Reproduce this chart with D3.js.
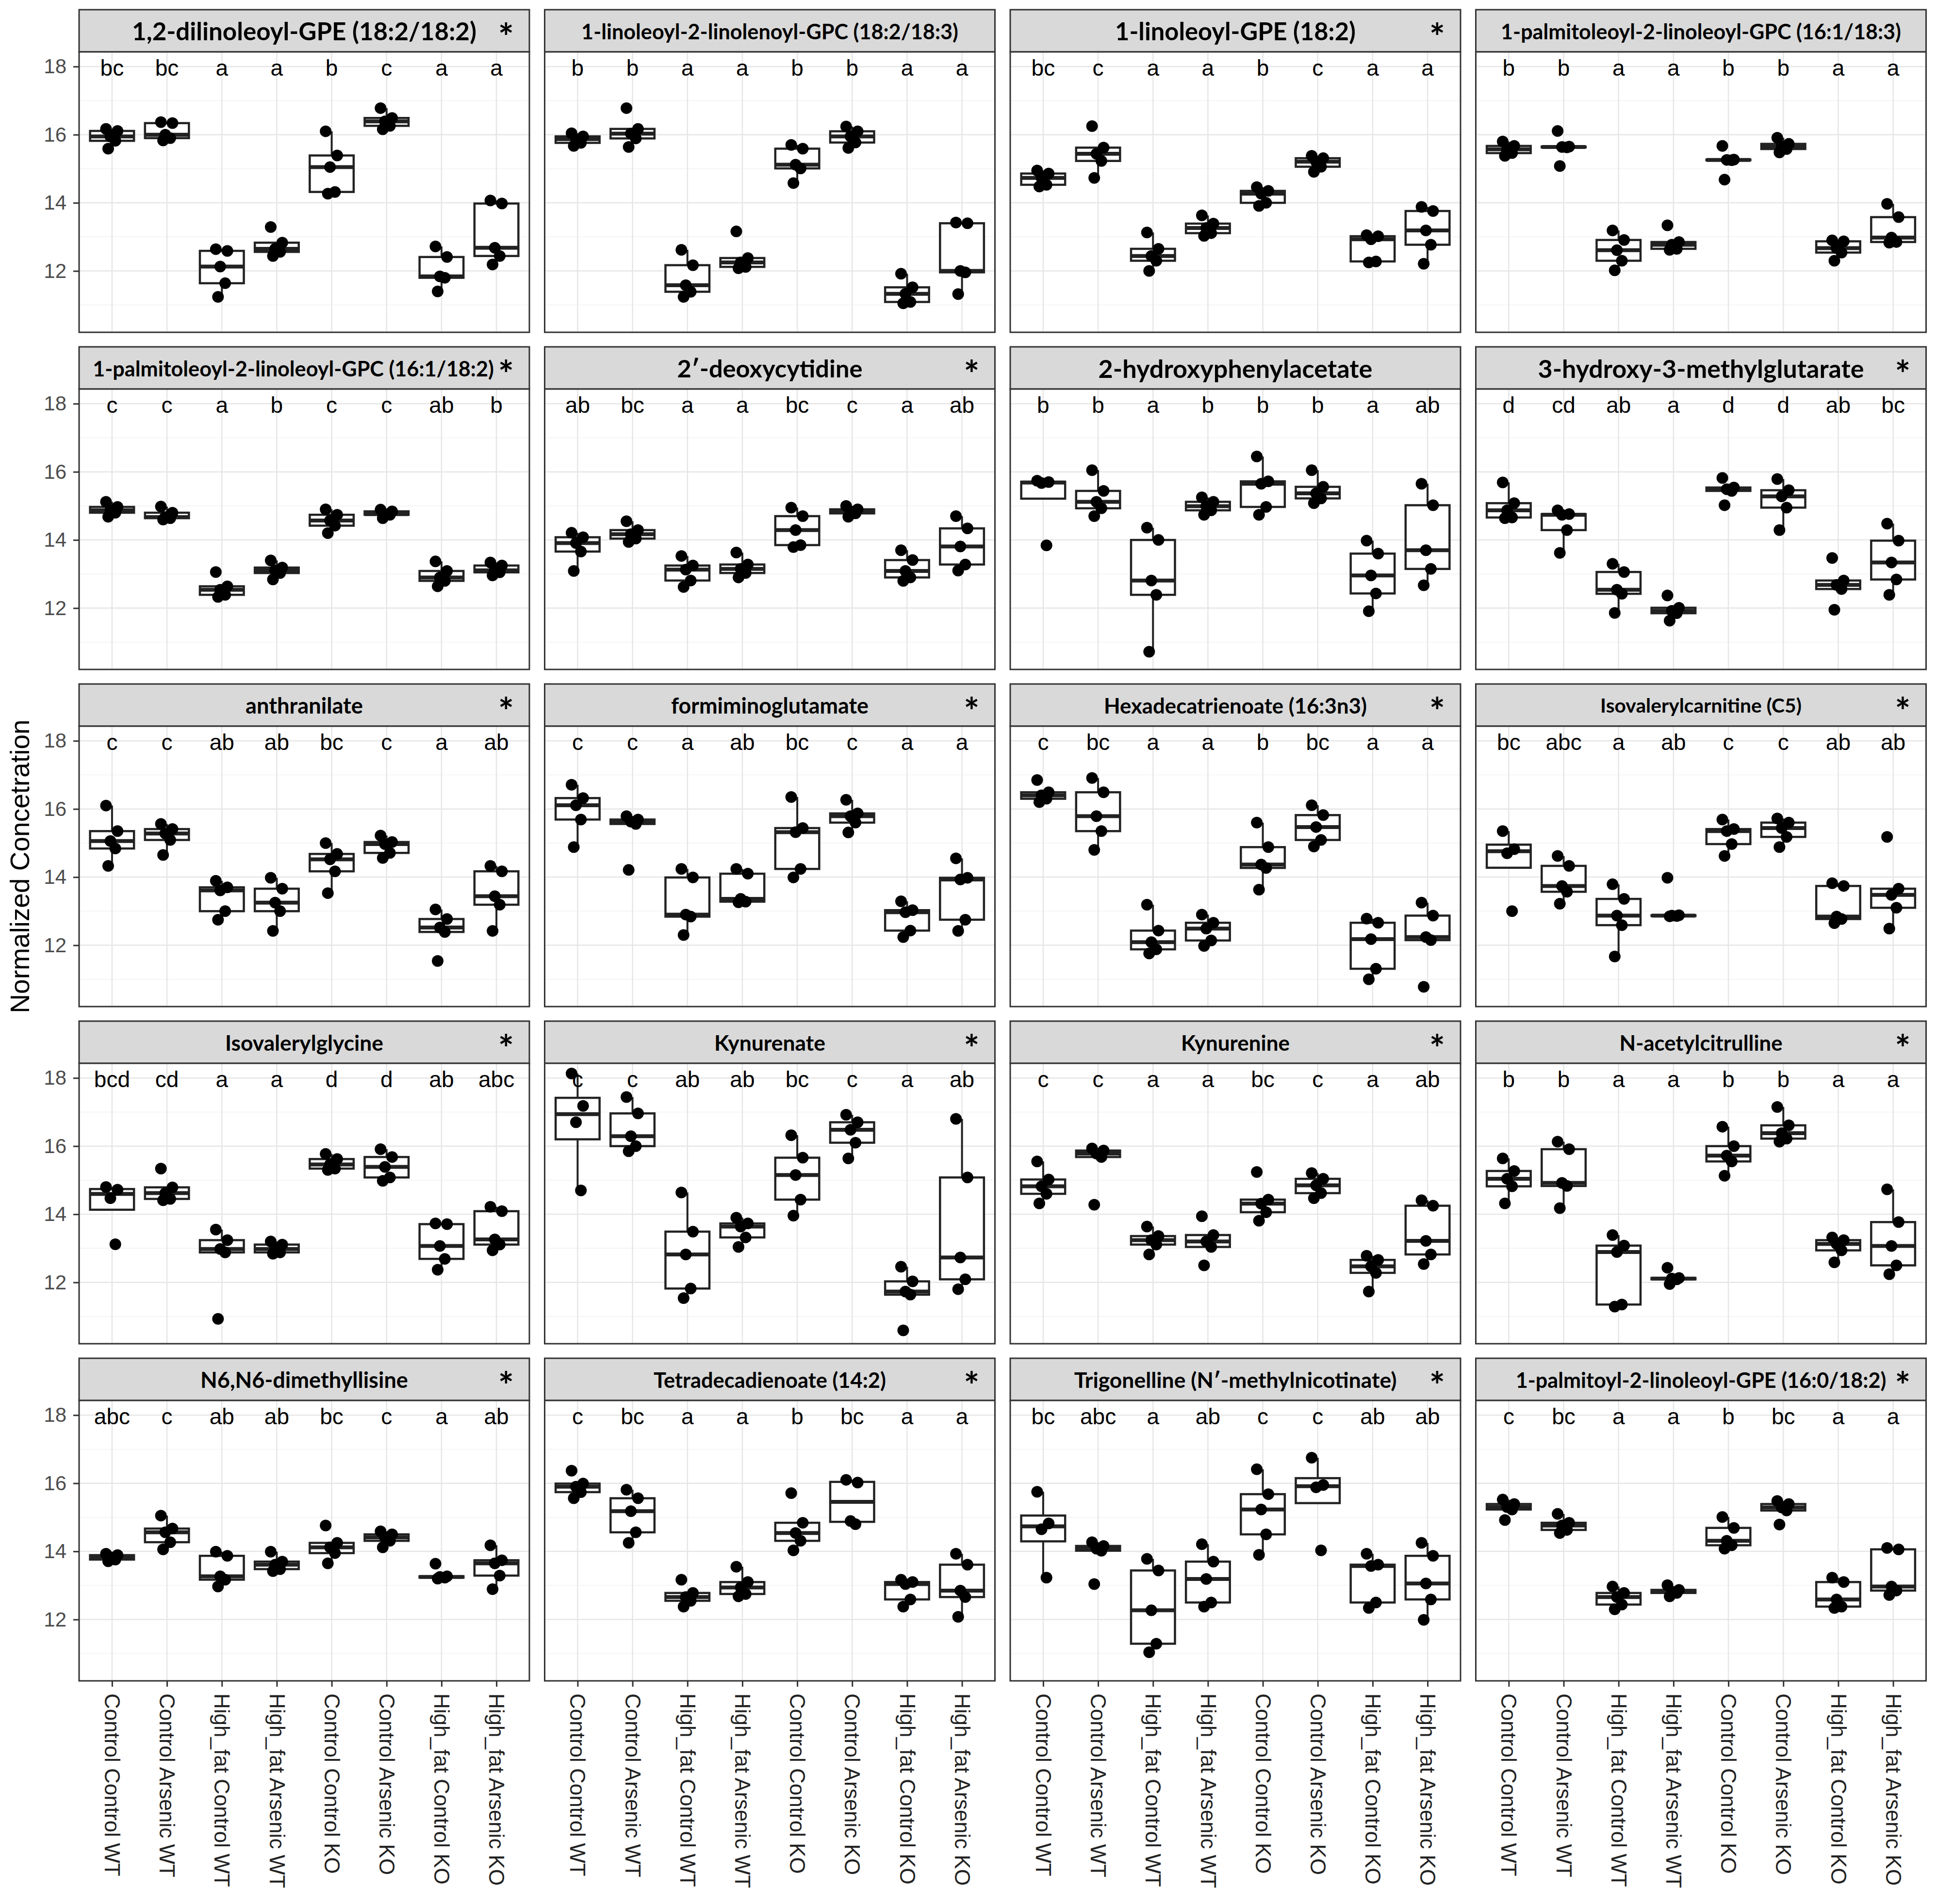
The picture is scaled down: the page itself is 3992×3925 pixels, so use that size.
<!DOCTYPE html>
<html>
<head>
<meta charset="utf-8">
<script src="https://cdn.jsdelivr.net/npm/d3@7"></script>
<style>
  body { margin: 0; background: #fff; }
</style>
</head>
<body>
<script>
// categories (x axis)
const groups = [
  "Control Control WT", "Control Arsenic WT", "High_fat Control WT", "High_fat Arsenic WT",
  "Control Control KO", "Control Arsenic KO", "High_fat Control KO", "High_fat Arsenic KO"
];

// facet titles, in reading order
const metabolites = [
  "1,2-dilinoleoyl-GPE (18:2/18:2)", "1-linoleoyl-2-linolenoyl-GPC (18:2/18:3)",
  "1-linoleoyl-GPE (18:2)", "1-palmitoleoyl-2-linoleoyl-GPC (16:1/18:3)",
  "1-palmitoleoyl-2-linoleoyl-GPC (16:1/18:2)", "2\u2032-deoxycytidine",
  "2-hydroxyphenylacetate", "3-hydroxy-3-methylglutarate",
  "anthranilate", "formiminoglutamate", "Hexadecatrienoate (16:3n3)", "Isovalerylcarnitine (C5)",
  "Isovalerylglycine", "Kynurenate", "Kynurenine", "N-acetylcitrulline",
  "N6,N6-dimethyllisine", "Tetradecadienoate (14:2)", "Trigonelline (N\u2032-methylnicotinate)",
  "1-palmitoyl-2-linoleoyl-GPE (16:0/18:2)"
];

const starred = [true, false, true, false, true, true, false, true,
  true, true, true, true, true, true, true, true, true, true, true, true];

// significance letters per group
const letters = [
  ["bc", "bc", "a", "a", "b", "c", "a", "a"],
  ["b", "b", "a", "a", "b", "b", "a", "a"],
  ["bc", "c", "a", "a", "b", "c", "a", "a"],
  ["b", "b", "a", "a", "b", "b", "a", "a"],
  ["c", "c", "a", "b", "c", "c", "ab", "b"],
  ["ab", "bc", "a", "a", "bc", "c", "a", "ab"],
  ["b", "b", "a", "b", "b", "b", "a", "ab"],
  ["d", "cd", "ab", "a", "d", "d", "ab", "bc"],
  ["c", "c", "ab", "ab", "bc", "c", "a", "ab"],
  ["c", "c", "a", "ab", "bc", "c", "a", "a"],
  ["c", "bc", "a", "a", "b", "bc", "a", "a"],
  ["bc", "abc", "a", "ab", "c", "c", "ab", "ab"],
  ["bcd", "cd", "a", "a", "d", "d", "ab", "abc"],
  ["c", "c", "ab", "ab", "bc", "c", "a", "ab"],
  ["c", "c", "a", "a", "bc", "c", "a", "ab"],
  ["b", "b", "a", "a", "b", "b", "a", "a"],
  ["abc", "c", "ab", "ab", "bc", "c", "a", "ab"],
  ["c", "bc", "a", "a", "b", "bc", "a", "a"],
  ["bc", "abc", "a", "ab", "c", "c", "ab", "ab"],
  ["c", "bc", "a", "a", "b", "bc", "a", "a"]
];

const yTicks = [12, 14, 16, 18];
const yMinorTicks = [11, 13, 15, 17];

// normalized concentrations, one list of samples per group
const dilinoleoylGPE = [
  [16.17, 16.11, 15.95, 15.82, 15.59], [16.37, 16.34, 16.00, 15.90, 15.83],
  [12.64, 12.59, 12.13, 11.64, 11.24], [13.29, 12.83, 12.65, 12.56, 12.44],
  [16.10, 15.39, 15.05, 14.32, 14.27], [16.78, 16.49, 16.39, 16.26, 16.16],
  [12.72, 12.41, 11.84, 11.80, 11.40], [14.07, 13.98, 12.68, 12.44, 12.19]
];
const linoleoylLinolenoylGPC = [
  [16.04, 15.95, 15.87, 15.76, 15.67], [16.78, 16.17, 16.03, 15.89, 15.64],
  [12.62, 12.17, 11.58, 11.39, 11.24], [13.16, 12.38, 12.25, 12.12, 12.08],
  [15.70, 15.59, 15.12, 15.01, 14.58], [16.24, 16.10, 15.95, 15.77, 15.61],
  [11.92, 11.52, 11.33, 11.09, 11.05], [13.42, 13.40, 12.00, 11.96, 11.32]
];
const linoleoylGPE = [
  [14.95, 14.86, 14.73, 14.53, 14.48], [16.25, 15.62, 15.44, 15.23, 14.73],
  [13.13, 12.65, 12.44, 12.30, 12.00], [13.63, 13.39, 13.26, 13.11, 13.03],
  [14.46, 14.35, 14.27, 14.00, 13.91], [15.38, 15.31, 15.21, 15.06, 14.91],
  [13.05, 13.02, 12.93, 12.28, 12.25], [13.88, 13.76, 13.19, 12.77, 12.21]
];
const palmitoleoylLinoleoylGPC183 = [
  [15.80, 15.67, 15.57, 15.46, 15.38], [16.11, 15.65, 15.64, 15.63, 15.08],
  [13.19, 12.91, 12.61, 12.30, 12.02], [13.34, 12.85, 12.77, 12.65, 12.62],
  [15.67, 15.27, 15.26, 15.25, 14.68], [15.91, 15.73, 15.65, 15.58, 15.48],
  [12.90, 12.87, 12.67, 12.54, 12.30], [13.97, 13.58, 12.98, 12.85, 12.83]
];
const palmitoleoylLinoleoylGPC182 = [
  [15.12, 14.97, 14.87, 14.80, 14.68], [14.98, 14.80, 14.67, 14.64, 14.60],
  [13.06, 12.64, 12.54, 12.39, 12.33], [13.40, 13.19, 13.11, 13.03, 12.84],
  [14.90, 14.74, 14.57, 14.42, 14.20], [14.89, 14.84, 14.76, 14.74, 14.64],
  [13.37, 13.09, 12.90, 12.80, 12.64], [13.34, 13.25, 13.11, 13.05, 12.96]
];
const deoxycytidine = [
  [14.21, 14.08, 13.91, 13.66, 13.09], [14.55, 14.29, 14.17, 14.04, 13.94],
  [13.53, 13.25, 13.13, 12.81, 12.62], [13.63, 13.28, 13.15, 13.03, 12.90],
  [14.95, 14.70, 14.29, 13.85, 13.79], [15.00, 14.90, 14.84, 14.78, 14.68],
  [13.70, 13.41, 13.09, 12.90, 12.80], [14.70, 14.34, 13.81, 13.28, 13.10]
];
const hydroxyphenylacetate = [
  [15.74, 15.70, 15.67, 13.84], [16.05, 15.44, 15.12, 14.93, 14.70],
  [14.36, 14.00, 12.81, 12.39, 10.72], [15.25, 15.12, 14.99, 14.87, 14.74],
  [16.45, 15.72, 15.65, 14.97, 14.74], [16.05, 15.56, 15.37, 15.22, 15.08],
  [13.98, 13.60, 12.96, 12.43, 11.91], [15.65, 15.02, 13.70, 13.15, 12.67]
];
const hydroxyMethylglutarate = [
  [15.69, 15.08, 14.87, 14.66, 14.64], [14.87, 14.76, 14.74, 14.29, 13.62],
  [13.30, 13.06, 12.54, 12.42, 11.86], [12.37, 12.01, 11.92, 11.85, 11.63],
  [15.82, 15.54, 15.49, 15.44, 15.02], [15.79, 15.46, 15.28, 14.95, 14.29],
  [13.47, 12.81, 12.68, 12.56, 11.95], [14.48, 13.98, 13.34, 12.84, 12.39]
];
const anthranilate = [
  [16.10, 15.35, 15.06, 14.84, 14.33], [15.56, 15.41, 15.28, 15.09, 14.65],
  [13.89, 13.70, 13.61, 13.00, 12.75], [13.98, 13.66, 13.25, 13.00, 12.42],
  [15.00, 14.68, 14.52, 14.17, 13.53], [15.22, 15.03, 14.97, 14.71, 14.56],
  [13.05, 12.77, 12.52, 12.39, 11.54], [14.33, 14.17, 13.44, 13.19, 12.42]
];
const formiminoglutamate = [
  [16.71, 16.32, 16.11, 15.69, 14.88], [15.79, 15.69, 15.63, 15.56, 14.21],
  [14.24, 13.99, 12.90, 12.84, 12.30], [14.24, 14.10, 13.36, 13.28, 13.26],
  [16.35, 15.44, 15.32, 14.24, 13.99], [16.27, 15.87, 15.79, 15.60, 15.31],
  [13.29, 13.03, 12.97, 12.43, 12.24], [14.55, 13.98, 13.93, 12.75, 12.42]
];
const hexadecatrienoate = [
  [16.85, 16.49, 16.40, 16.30, 16.20], [16.91, 16.49, 15.79, 15.35, 14.80],
  [13.19, 12.43, 12.09, 11.88, 11.76], [12.90, 12.66, 12.49, 12.14, 11.98],
  [15.60, 14.88, 14.37, 14.27, 13.63], [16.11, 15.82, 15.47, 15.09, 14.90],
  [12.78, 12.66, 12.18, 11.31, 11.00], [13.25, 12.87, 12.24, 12.15, 10.78]
];
const isovalerylcarnitine = [
  [15.35, 14.82, 14.70, 13.00], [14.62, 14.33, 13.74, 13.57, 13.22],
  [13.79, 13.36, 12.87, 12.59, 11.67], [13.98, 12.88, 12.87, 12.86, 12.85],
  [15.69, 15.41, 15.35, 14.97, 14.62], [15.72, 15.60, 15.44, 15.18, 14.88],
  [13.82, 13.74, 12.84, 12.77, 12.65], [15.18, 13.66, 13.48, 13.10, 12.49]
];
const isovalerylglycine = [
  [14.80, 14.72, 14.47, 13.12], [15.34, 14.79, 14.62, 14.45, 14.41],
  [13.55, 13.24, 12.98, 12.88, 10.93], [13.20, 13.11, 12.98, 12.88, 12.84],
  [15.77, 15.62, 15.46, 15.34, 15.30], [15.91, 15.68, 15.39, 15.08, 14.98],
  [13.73, 13.71, 13.07, 12.69, 12.37], [14.22, 14.09, 13.26, 13.11, 12.94]
];
const kynurenate = [
  [18.13, 17.18, 16.70, 14.70], [17.44, 16.96, 16.29, 16.00, 15.85],
  [14.64, 13.49, 12.82, 11.82, 11.54], [13.90, 13.73, 13.64, 13.32, 13.04],
  [16.32, 15.66, 15.15, 14.43, 13.96], [16.92, 16.70, 16.48, 16.10, 15.64],
  [12.46, 12.03, 11.73, 11.64, 10.59], [16.80, 15.08, 12.73, 12.09, 11.80]
];
const kynurenine = [
  [15.55, 15.02, 14.82, 14.60, 14.32], [15.93, 15.87, 15.78, 15.68, 14.28],
  [13.64, 13.36, 13.24, 13.11, 12.82], [13.94, 13.39, 13.20, 13.04, 12.50],
  [15.24, 14.43, 14.31, 14.06, 13.81], [15.21, 15.04, 14.85, 14.62, 14.47],
  [12.78, 12.66, 12.47, 12.28, 11.73], [14.41, 14.25, 13.22, 12.82, 12.54]
];
const acetylcitrulline = [
  [15.64, 15.27, 15.04, 14.82, 14.32], [16.13, 15.91, 14.92, 14.83, 14.18],
  [13.39, 13.08, 12.89, 11.35, 11.29], [12.43, 12.13, 12.11, 12.09, 11.95],
  [16.57, 16.00, 15.72, 15.55, 15.13], [17.15, 16.61, 16.38, 16.22, 16.13],
  [13.32, 13.24, 13.13, 12.94, 12.59], [14.73, 13.77, 13.07, 12.50, 12.24]
];
const dimethyllysine = [
  [13.93, 13.89, 13.83, 13.76, 13.71], [15.05, 14.67, 14.56, 14.27, 14.06],
  [13.99, 13.87, 13.27, 13.17, 12.97], [13.99, 13.70, 13.61, 13.48, 13.42],
  [14.76, 14.25, 14.12, 13.95, 13.65], [14.59, 14.50, 14.41, 14.31, 14.12],
  [13.64, 13.27, 13.25, 13.23, 13.20], [14.18, 13.74, 13.65, 13.29, 12.89]
];
const tetradecadienoate = [
  [16.37, 15.99, 15.90, 15.74, 15.56], [15.81, 15.56, 15.18, 14.56, 14.25],
  [13.17, 12.78, 12.66, 12.55, 12.38], [13.55, 13.10, 12.94, 12.75, 12.68],
  [15.71, 14.84, 14.54, 14.31, 14.03], [16.10, 16.02, 14.89, 14.80],
  [13.17, 13.10, 13.04, 12.59, 12.38], [13.93, 13.61, 12.85, 12.66, 12.08]
];
const trigonelline = [
  [15.75, 14.82, 14.65, 13.23], [14.27, 14.16, 14.08, 14.02, 13.04],
  [13.78, 13.44, 12.27, 11.29, 11.04], [14.21, 13.70, 13.19, 12.50, 12.38],
  [16.41, 15.68, 15.23, 14.50, 13.90], [16.75, 15.95, 15.88, 14.03],
  [13.93, 13.61, 13.57, 12.50, 12.34], [14.25, 13.87, 13.06, 12.59, 11.99]
];
const palmitoylLinoleoylGPE = [
  [15.52, 15.39, 15.30, 15.23, 14.92], [15.10, 14.84, 14.76, 14.63, 14.54],
  [12.97, 12.78, 12.66, 12.44, 12.30], [13.01, 12.87, 12.82, 12.78, 12.68],
  [15.01, 14.69, 14.31, 14.18, 14.08], [15.48, 15.39, 15.29, 15.20, 14.79],
  [13.23, 13.10, 12.59, 12.38, 12.34], [14.10, 14.06, 12.97, 12.85, 12.72]
];

const series = [
  dilinoleoylGPE, linoleoylLinolenoylGPC, linoleoylGPE, palmitoleoylLinoleoylGPC183,
  palmitoleoylLinoleoylGPC182, deoxycytidine, hydroxyphenylacetate, hydroxyMethylglutarate,
  anthranilate, formiminoglutamate, hexadecatrienoate, isovalerylcarnitine,
  isovalerylglycine, kynurenate, kynurenine, acetylcitrulline,
  dimethyllysine, tetradecadienoate, trigonelline, palmitoylLinoleoylGPE
];

// ---- layout ----
const width = 3992;
const height = 3925;
const nCols = 4;
const left0 = 163, colStep = 959.5, panelW = 928;
const top0 = 20, stripH = 87, panelH = 578, rowStep = 695;
const nRows = Math.ceil(series.length / nCols);
const starX = panelW - 48;

const titleWidth = [710, 777, 496, 825, 827, 382, 565, 672, 242, 407, 542, 415,
  326, 229, 224, 336, 428, 479, 665, 764];

const svg = d3.select("body")
  .append("svg")
  .attr("width", width)
  .attr("height", height)
  .style("background", "#fff");

const x = d3.scalePoint()
  .domain(groups)
  .range([0, panelW])
  .padding(0.6);

const y = d3.scaleLinear()
  .domain([10.2, 18.43])
  .range([panelH, 0]);

const boxW = x.step() * 0.8;
const jitter = [-0.11, 0.1, -0.03, 0.06, -0.07, 0.12]; // fraction of a step, by sample index

function boxStats(v) {
  const s = v.slice().sort(d3.ascending);
  const q1 = d3.quantile(s, 0.25);
  const med = d3.quantile(s, 0.5);
  const q3 = d3.quantile(s, 0.75);
  const iqr = q3 - q1;
  const lo = d3.min(s.filter(d => d >= q1 - 1.5 * iqr));
  const hi = d3.max(s.filter(d => d <= q3 + 1.5 * iqr));
  return { q1, med, q3, lo, hi };
}

series.forEach((data, i) => {
  const col = i % nCols;
  const row = Math.floor(i / nCols);
  const px = left0 + col * colStep;
  const stripTop = top0 + row * rowStep;
  const py = stripTop + stripH;

  // strip
  const strip = svg.append("g").attr("transform", `translate(${px},${stripTop})`);
  strip.append("rect")
    .attr("width", panelW)
    .attr("height", stripH)
    .attr("fill", "#d9d9d9")
    .attr("stroke", "#333")
    .attr("stroke-width", 3);

  const title = strip.append("text")
    .attr("x", panelW / 2)
    .attr("y", stripH / 2)
    .attr("text-anchor", "middle")
    .attr("dominant-baseline", "central")
    .attr("font-family", "Lato, 'Open Sans', sans-serif")
    .attr("font-weight", "bold")
    .attr("font-size", 40)
    .attr("fill", "#000")
    .text(metabolites[i]);
  const len = title.node().getComputedTextLength();
  title.attr("font-size", 40 * titleWidth[i] / len);
  // keep long titles clear of the star
  const half = titleWidth[i] / 2;
  if (starred[i] && panelW / 2 + half > starX - 25) {
    title.attr("x", starX - 25 - half);
  }

  if (starred[i]) {
    strip.append("text")
      .attr("x", starX)
      .attr("y", stripH / 2 + 40)
      .attr("text-anchor", "middle")
      .attr("font-family", "Lato, sans-serif")
      .attr("font-weight", "bold")
      .attr("font-size", 76)
      .attr("fill", "#000")
      .text("*");
  }

  // panel
  const g = svg.append("g").attr("transform", `translate(${px},${py})`);
  g.append("rect")
    .attr("width", panelW)
    .attr("height", panelH)
    .attr("fill", "#fff");

  g.selectAll(".minor")
    .data(yMinorTicks)
    .join("line")
    .attr("x1", 0).attr("x2", panelW)
    .attr("y1", d => y(d)).attr("y2", d => y(d))
    .attr("stroke", "#f2f2f2")
    .attr("stroke-width", 1.5);

  g.selectAll(".hgrid")
    .data(yTicks)
    .join("line")
    .attr("x1", 0).attr("x2", panelW)
    .attr("y1", d => y(d)).attr("y2", d => y(d))
    .attr("stroke", "#e6e6e6")
    .attr("stroke-width", 2.5);

  g.selectAll(".vgrid")
    .data(groups)
    .join("line")
    .attr("x1", d => x(d)).attr("x2", d => x(d))
    .attr("y1", 0).attr("y2", panelH)
    .attr("stroke", "#e6e6e6")
    .attr("stroke-width", 2.5);

  // boxplots
  const stats = data.map(boxStats);
  const box = g.selectAll(".box")
    .data(stats)
    .join("g")
    .attr("transform", (d, k) => `translate(${x(groups[k])},0)`);

  box.append("line")
    .attr("y1", d => y(d.hi)).attr("y2", d => y(d.q3))
    .attr("stroke", "#222").attr("stroke-width", 4);
  box.append("line")
    .attr("y1", d => y(d.q1)).attr("y2", d => y(d.lo))
    .attr("stroke", "#222").attr("stroke-width", 4);
  box.append("rect")
    .attr("x", -boxW / 2)
    .attr("width", boxW)
    .attr("y", d => y(d.q3))
    .attr("height", d => Math.max(0.5, y(d.q1) - y(d.q3)))
    .attr("fill", "#fff")
    .attr("stroke", "#222")
    .attr("stroke-width", 4.5);
  box.append("line")
    .attr("x1", -boxW / 2).attr("x2", boxW / 2)
    .attr("y1", d => y(d.med)).attr("y2", d => y(d.med))
    .attr("stroke", "#222").attr("stroke-width", 8);

  // samples
  const pts = data.flatMap((v, k) => v.map((val, j) => ({ g: groups[k], j, val })));
  g.selectAll(".pt")
    .data(pts)
    .join("circle")
    .attr("cx", d => x(d.g) + jitter[d.j] * x.step())
    .attr("cy", d => y(d.val))
    .attr("r", 12)
    .attr("fill", "#000");

  // letters
  g.selectAll(".letter")
    .data(letters[i])
    .join("text")
    .attr("x", (d, k) => x(groups[k]))
    .attr("y", y(18) + 19)
    .attr("text-anchor", "middle")
    .attr("font-family", "'Liberation Sans', Arial, sans-serif")
    .attr("font-size", 46)
    .attr("fill", "#000")
    .text(d => d);

  // border
  g.append("rect")
    .attr("width", panelW)
    .attr("height", panelH)
    .attr("fill", "none")
    .attr("stroke", "#333")
    .attr("stroke-width", 3);

  // y axis on the first column
  if (col === 0) {
    const ya = g.append("g")
      .call(d3.axisLeft(y).tickValues(yTicks).tickSize(12).tickPadding(14));
    ya.select(".domain").remove();
    ya.selectAll("line").attr("stroke", "#333").attr("stroke-width", 3);
    ya.selectAll("text")
      .attr("font-family", "'Liberation Sans', Arial, sans-serif")
      .attr("font-size", 42)
      .attr("fill", "#4d4d4d");
  }

  // x axis on the last row
  if (row === nRows - 1) {
    const xa = g.append("g")
      .attr("transform", `translate(0,${panelH})`)
      .call(d3.axisBottom(x).tickSize(12));
    xa.select(".domain").remove();
    xa.selectAll("line").attr("stroke", "#333").attr("stroke-width", 3);
    xa.selectAll("text")
      .attr("x", 0)
      .attr("y", 0)
      .attr("dy", "0.35em")
      .attr("transform", "translate(0,26) rotate(90)")
      .style("text-anchor", "start")
      .attr("font-family", "'Liberation Sans', Arial, sans-serif")
      .attr("font-size", 44)
      .attr("fill", "#222");
  }
});

// y axis title
const panelsTop = top0 + stripH;
const panelsBottom = top0 + (nRows - 1) * rowStep + stripH + panelH;
svg.append("text")
  .attr("transform", `translate(41,${(panelsTop + panelsBottom) / 2}) rotate(-90)`)
  .attr("text-anchor", "middle")
  .attr("dominant-baseline", "central")
  .attr("font-family", "'Liberation Sans', Arial, sans-serif")
  .attr("font-size", 55)
  .attr("fill", "#000")
  .text("Normalized Concetration");
</script>
</body>
</html>
